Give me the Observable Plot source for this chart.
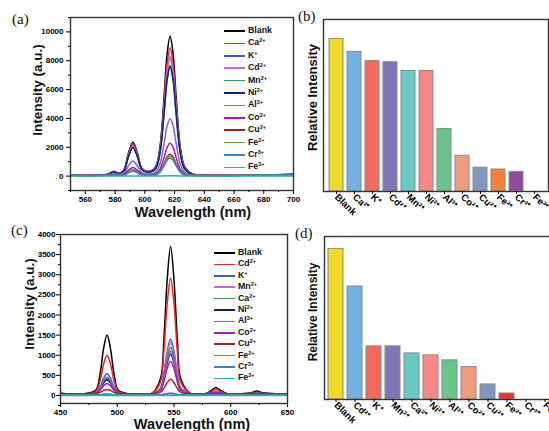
<!DOCTYPE html>
<html><head><meta charset="utf-8">
<script src="https://cdn.jsdelivr.net/npm/d3@7"></script>
<script src="https://cdn.jsdelivr.net/npm/@observablehq/plot@0.6"></script>
<style>
body{margin:0;background:#fff;}
#fig{position:relative;width:549px;height:431px;overflow:hidden;background:#fff;font-family:"Liberation Sans",Arial,sans-serif;}
#fig svg{position:absolute;}
.lab{position:absolute;font-family:"Liberation Serif","Times New Roman",serif;font-size:15px;color:#111;}
.leg{position:absolute;font-weight:bold;font-size:8.8px;color:#111;}
.leg .row{position:absolute;white-space:nowrap;}
.leg .sw{position:absolute;height:1.7px;}
.leg sup{font-size:5.5px;vertical-align:3px;}
</style>
</head><body>
<div id="fig"></div>
<script>
// ---------- Panel (a): emission spectra, 550-700 nm ----------
const wlA = [550,565,575,579,583,586,589,592,595,598,602,607,610,613,615,617,619,621,624,627,632,645,670,700];
const aBlank = [80,50,130,330,200,450,1600,2350,1600,550,320,600,1900,5600,8500,9700,8500,5600,1900,600,150,60,60,120];
const aCa    = [80,50,120,300,190,430,1530,2250,1530,525,300,555,1745,5140,7800,8900,7800,5140,1745,555,140,58,60,115];
const aK     = [78,50,115,280,180,405,1430,2100,1430,490,280,520,1620,4780,7260,8280,7260,4780,1620,520,130,57,58,112];
const aCd    = [78,50,115,280,178,400,1415,2080,1415,487,278,510,1610,4745,7200,8220,7200,4745,1610,510,128,57,58,112];
const aMn    = [76,50,110,260,172,385,1360,2000,1360,468,262,475,1500,4420,6715,7660,6715,4420,1500,475,120,55,57,110];
const aNi    = [76,50,110,260,170,380,1350,1980,1350,464,260,472,1493,4400,6680,7620,6680,4400,1493,472,118,55,57,110];
const aAl    = [70,48,85,150,110,200,715,1050,715,246,140,246,780,2300,3490,3980,3490,2300,780,246,62,50,55,105];
const aCo    = [68,47,72,100,75,115,408,600,408,140,85,140,445,1310,1990,2270,1990,1310,445,140,50,48,54,100];
const aCu    = [66,46,66,80,65,80,286,420,286,98,65,94,296,873,1323,1510,1323,873,296,94,50,46,53,98];
const aFe2   = [66,46,65,78,64,77,272,400,272,94,62,86,274,808,1227,1400,1227,808,274,86,50,46,53,98];
const aCr    = [65,46,62,70,60,65,231,340,231,80,58,77,245,722,1096,1250,1096,722,245,77,48,46,52,96];
const aFe3   = [5,3,3,5,3,3,8,12,8,3,3,3,8,15,22,25,22,15,8,3,3,3,3,5];
const ionsA    = ["Blank","Ca","K","Cd","Mn","Ni","Al","Co","Cu","Fe","Cr","Fe"];
const chargesA = ["","2+","+","2+","2+","2+","3+","2+","2+","2+","3+","3+"];
const seriesA  = [aBlank,aCa,aK,aCd,aMn,aNi,aAl,aCo,aCu,aFe2,aCr,aFe3];
const xMajorA = [560,580,600,620,640,660,680,700];
const xMinorA = [550,570,590,610,630,650,670,690];
const yMajorA = [0,2000,4000,6000,8000,10000];
const yMinorA = [-1000,1000,3000,5000,7000,9000,11000];

// ---------- Panel (c): emission spectra, 450-650 nm ----------
const wlC = [450,470,481,485,488,491,494,497,501,510,530,538,541,544,547,550,553,556,565,578,583,587,591,597,610,618,623,628,640,650];
const cBlank = [50,40,126,566,1171,1500,1171,566,126,42,40,410,1358,2877,3700,2877,1358,410,42,50,125,200,125,45,40,65,110,65,40,45];
const cCd    = [48,40,97,386,784,1000,784,386,97,41,40,331,1077,2272,2920,2272,1077,331,41,45,97,150,97,42,40,54,80,54,40,45];
const cK     = [48,40,70,220,428,540,428,220,70,40,40,177,530,1094,1400,1094,530,177,40,42,66,90,66,41,40,47,60,47,40,45];
const cMn    = [47,40,62,177,335,420,335,177,62,40,40,169,501,1032,1320,1032,501,169,40,42,61,80,61,41,40,45,55,45,40,44];
const cCa    = [47,40,60,162,304,380,304,162,60,40,40,157,458,939,1200,939,458,157,40,41,58,75,58,41,40,44,50,44,40,44];
const cNi    = [46,40,61,170,319,400,319,170,61,40,40,140,396,807,1030,807,396,140,40,41,58,75,58,41,40,44,50,44,40,44];
const cAl    = [46,40,64,188,358,450,358,188,64,40,40,147,422,862,1100,862,422,147,40,42,61,80,61,41,40,45,55,45,40,44];
const cCo    = [45,40,55,134,242,300,242,134,55,40,40,122,332,668,850,668,332,122,40,41,53,65,53,40,40,42,45,42,40,43];
const cCu    = [44,40,46,80,125,150,125,80,46,40,40,76,170,319,400,319,170,76,40,40,45,50,45,40,40,40,40,40,40,42];
const cFe2   = [15,10,11,17,25,30,25,17,11,10,10,13,21,33,40,33,21,13,10,10,10,12,10,10,10,10,10,10,10,12];
const cCr    = [15,10,11,19,29,35,29,19,11,10,10,15,28,49,60,49,28,15,10,10,10,12,10,10,10,10,10,10,10,12];
const cFe3   = [0,0,0,0,0,0,0,0,0,0,0,0,0,0,0,0,0,0,0,0,0,0,0,0,0,0,0,0,0,0];
const ionsC    = ["Blank","Cd","K","Mn","Ca","Ni","Al","Co","Cu","Fe","Cr","Fe"];
const chargesC = ["","2+","+","2+","2+","2+","3+","2+","2+","2+","3+","3+"];
const seriesC  = [cBlank,cCd,cK,cMn,cCa,cNi,cAl,cCo,cCu,cFe2,cCr,cFe3];
const xMajorC = [450,500,550,600,650];
const xMinorC = [475,525,575,625];
const yMajorC = [0,500,1000,1500,2000,2500,3000,3500,4000];
const yMinorC = [-250,250,750,1250,1750,2250,2750,3250,3750];

const lineColors = ["#000000","#f2231f","#3f5cc4","#d263cf","#1fa04f","#1b1b7e","#8563c9","#a11fb0","#a0252a","#8c8a27","#3b7fd2","#1fb3b0"];

// ---------- Panel (b) & (d): relative intensity bars ----------
const ionsB    = ["Blank","Ca","K","Cd","Mn","Ni","Al","Co","Cu","Fe","Cr","Fe"];
const chargesB = ["","2+","+","2+","2+","2+","3+","2+","2+","2+","3+","3+"];
const valuesB  = [1, 0.915, 0.854, 0.847, 0.79, 0.79, 0.41, 0.234, 0.156, 0.144, 0.129, 0];
const colorsB  = ["#f2da2a","#74b1e2","#f2695e","#8275b7","#68c9bf","#f58987","#6cc389","#ee9b80","#8197be","#f5813c","#8f489c","#cccccc"];
const ionsD    = ["Blank","Cd","K","Mn","Ca","Ni","Al","Co","Cu","Fe","Cr","Fe"];
const chargesD = ["","2+","+","2+","2+","2+","3+","2+","2+","2+","3+","3+"];
const valuesD  = [1, 0.75, 0.353, 0.353, 0.306, 0.293, 0.26, 0.215, 0.1, 0.04, 0, 0];
const colorsD  = ["#f2da2a","#74b1e2","#f2695e","#8275b7","#68c9bf","#f58987","#6cc389","#ee9b80","#8197be","#e8312b","#cccccc","#cccccc"];

const supMap = {"2+":"²⁺","3+":"³⁺","+":"⁺","":""};
const fig = document.getElementById("fig");
const FONT = '"Liberation Sans", Arial, sans-serif';

function place(el, left, top){ el.style.left = left+"px"; el.style.top = top+"px"; fig.appendChild(el); }

function spectra(wl, series, ions, charges, o){
  const names = ions.map((d,i)=>i+":"+d+charges[i]);
  const data = [];
  series.forEach((arr,i)=>arr.forEach((v,j)=>data.push({w:wl[j], v, s:names[i]})));
  return Plot.plot({
    width:o.width, height:o.height,
    marginLeft:o.ml, marginRight:o.mr, marginTop:o.mt, marginBottom:o.mb,
    style:{background:"transparent", fontFamily:FONT, overflow:"visible", maxWidth:"none"},
    x:{domain:o.xd}, y:{domain:o.yd},
    color:{domain:names, range:lineColors},
    marks:[
      Plot.lineY(data, {x:"w", y:"v", z:"s", stroke:"s", curve:"catmull-rom", strokeWidth:1.5, clip:true}),
      Plot.frame({stroke:"#333", strokeWidth:1.4}),
      Plot.axisX(o.xMajor, {tickSize:4, tickPadding:2, fontWeight:"bold", fontSize:8, tickFormat:d3.format("d"), label:null}),
      Plot.axisX(o.xMinor, {tickSize:2, tickFormat:()=>"", label:null}),
      Plot.axisY(o.yMajor, {tickSize:4, tickPadding:o.tp, fontWeight:"bold", fontSize:8, tickFormat:d3.format("d"), label:null}),
      Plot.axisY(o.yMinor, {tickSize:2, tickFormat:()=>"", label:null}),
      Plot.text(["Intensity (a.u.)"], {frameAnchor:"left", textAnchor:"middle", lineAnchor:"middle", dx:o.ylx, dy:o.yly, rotate:-90, fontWeight:"bold", fontSize:13.5, fill:"#111"}),
      Plot.text(["Wavelength (nm)"], {frameAnchor:"bottom", textAnchor:"middle", lineAnchor:"middle", dx:o.xlx, dy:o.xly, fontWeight:"bold", fontSize:14.5, fill:"#111"})
    ]
  });
}

function bars(ions, charges, values, colors, o){
  const labels = ions.map((d,i)=>d+supMap[charges[i]]);
  const data = labels.map((l,i)=>({k:l, v:values[i], c:colors[i]}));
  return Plot.plot({
    width:o.width, height:o.height,
    marginLeft:o.ml, marginRight:o.mr, marginTop:o.mt, marginBottom:o.mb,
    style:{background:"transparent", fontFamily:FONT, overflow:"visible", maxWidth:"none"},
    x:{domain:labels, paddingInner:o.pi, paddingOuter:0.1},
    y:{domain:o.yd, axis:null},
    marks:[
      Plot.barY(data.filter(d=>d.v>0), {x:"k", y:"v", fill:"c", stroke:"#8a8a8a", strokeWidth:1}),
      Plot.frame({stroke:"#333", strokeWidth:1.4}),
      Plot.axisX({tickSize:3, tickRotate:45, tickPadding:1, fontWeight:"bold", fontSize:9.5, label:null}),
      Plot.text(["Relative Intensity"], {frameAnchor:"left", textAnchor:"middle", lineAnchor:"middle", dx:o.ylx, dy:o.yly, rotate:-90, fontWeight:o.yw, fontSize:o.yfs, fill:"#111"})
    ]
  });
}

function legend(ions, charges, left, top, step){
  const d = document.createElement("div");
  d.className = "leg";
  ions.forEach((ion,i)=>{
    const sw = document.createElement("div");
    sw.className = "sw";
    sw.style.left = "0px"; sw.style.width = "21px";
    sw.style.top = (i*step - 0.8)+"px";
    sw.style.background = lineColors[i];
    d.appendChild(sw);
    const r = document.createElement("div");
    r.className = "row";
    r.style.left = "24px"; r.style.top = (i*step - 6)+"px";
    r.innerHTML = ion + (charges[i] ? "<sup>"+charges[i]+"</sup>" : "");
    d.appendChild(r);
  });
  place(d, left, top);
}

function panelLabel(t, left, top){
  const d = document.createElement("div");
  d.className = "lab"; d.textContent = t;
  place(d, left, top);
}

// (a)
place(spectra(wlA, seriesA, ionsA, chargesA, {
  width:300, height:215, ml:70, mr:7, mt:17, mb:25,
  xd:[550,700], yd:[-1000,11000], xMajor:xMajorA, xMinor:xMinorA, yMajor:yMajorA, yMinor:yMinorA, tp:3,
  ylx:-33, yly:-14, xlx:11, xly:22
}), 0, 0);
// (c)
place(spectra(wlC, seriesC, ionsC, chargesC, {
  width:300, height:216, ml:60, mr:13, mt:19, mb:28,
  xd:[450,650], yd:[-200,4000], xMajor:xMajorC, xMinor:xMinorC, yMajor:yMajorC, yMinor:yMinorC, tp:1,
  ylx:-31, yly:-15, xlx:18, xly:21
}), 0, 215);
// (b)
place(bars(ionsB, chargesB, valuesB, colorsB, {
  width:270, height:215, ml:33, mr:12, mt:19, mb:24, pi:0.2, yd:[0,1.127],
  ylx:-11, yly:-8, yw:"bold", yfs:13
}), 290, 0);
// (d)
place(bars(ionsD, chargesD, valuesD, colorsD, {
  width:280, height:216, ml:34, mr:14, mt:21, mb:32, pi:0.19, yd:[0,1.082],
  ylx:-11, yly:-6, yw:"600", yfs:12
}), 290, 215);

legend(ionsA, chargesA, 224, 31, 12.4);
legend(ionsC, chargesC, 214, 253, 11.4);

panelLabel("(a)", 12, 11);
panelLabel("(b)", 298, 8);
panelLabel("(c)", 11, 222);
panelLabel("(d)", 295, 225);
</script>
</body></html>
